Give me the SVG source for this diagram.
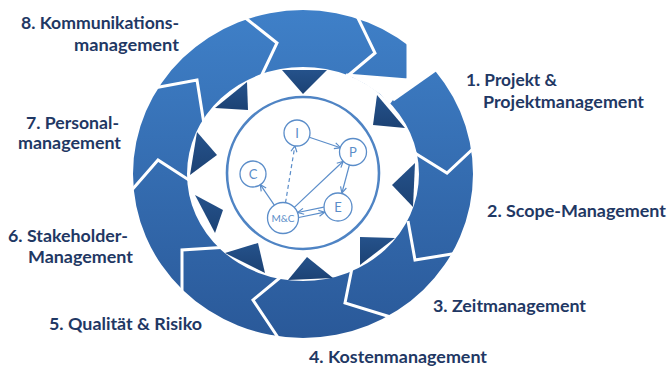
<svg xmlns="http://www.w3.org/2000/svg" width="669" height="371" viewBox="0 0 669 371">
<defs>
<linearGradient id="ringGrad" x1="0" y1="10" x2="0" y2="338" gradientUnits="userSpaceOnUse">
<stop offset="0" stop-color="#3f80c8"/>
<stop offset="1" stop-color="#2a5999"/>
</linearGradient>
<linearGradient id="triGrad" x1="0" y1="0" x2="0" y2="1">
<stop offset="0" stop-color="#25528b"/>
<stop offset="1" stop-color="#1c4274"/>
</linearGradient>
<marker id="ah" viewBox="0 0 8 8" refX="7" refY="4" markerWidth="8" markerHeight="8" markerUnits="userSpaceOnUse" orient="auto-start-reverse">
<path d="M1,1 L7,4 L1,7" fill="none" stroke="#5b8dc9" stroke-width="1.2"/>
</marker>
<style>
.sep{fill:none;stroke:#fff;stroke-width:3;stroke-linejoin:miter}
.tri{fill:url(#triGrad)}
.lbl{font-family:Lato,"Liberation Sans",Arial,sans-serif;font-weight:bold;font-size:17px;fill:#1f3864}
.nd{fill:#fff;stroke:#5b8dc9;stroke-width:1.3}
.nt{font-family:Lato,"Liberation Sans",Arial,sans-serif;font-size:13px;fill:#5b8dc9;text-anchor:middle}
.cn{fill:none;stroke:#5b8dc9;stroke-width:1.2}
</style>
</defs>
<rect width="669" height="371" fill="#fff"/>
<g id="ring">
<path fill="url(#ringGrad)" fill-rule="evenodd" d="M133,174 a170,164 0 1,0 340,0 a170,164 0 1,0 -340,0 Z M187,174 a116,107 0 1,0 232,0 a116,107 0 1,0 -232,0 Z"/>
<polygon fill="#fff" points="345,76 408,80 408,34 428,36 447,62 435,71 393,100 390,104 380,94 365,84 350,76"/>
<polyline class="sep" points="243,16 277,43 258,83"/>
<polyline class="sep" points="356,14 375,53 344,79"/>
<polyline class="sep" points="346,75 408,80 408,42"/>
<polyline class="sep" points="437,69 393,100"/>
<polyline class="sep" points="477,145 447,173 410,150"/>
<polyline class="sep" points="458,253 415,260 408,221"/>
<polyline class="sep" points="397,319 345,303 352,268"/>
<polyline class="sep" points="281,342 253,300 282,276"/>
<polyline class="sep" points="229,247 182,250 182,294"/>
<polyline class="sep" points="131,191 158,160 192,182"/>
<polyline class="sep" points="154,88 197,80 204,124"/>
</g>
<g id="triangles">
<polygon class="tri" points="282,70 327,70 303,94"/>
<polygon class="tri" points="377,95 373,125 405,128"/>
<polygon class="tri" points="415,163 392,185 413,207"/>
<polygon class="tri" points="360,237 395,238 360,265"/>
<polygon class="tri" points="288,280 307,257 333,278"/>
<polygon class="tri" points="225,253 258,243 265,273"/>
<polygon class="tri" points="195,195 223,210 215,233"/>
<polygon class="tri" points="197,132 217,155 190,175"/>
<polygon class="tri" points="247,82 215,108 248,110"/>
</g>
<g id="frame">
<circle cx="303" cy="173" r="76" fill="#fff" stroke="#4f84c4" stroke-width="2.6"/>
</g>
<g id="connectors">
<line class="cn" x1="309.3" y1="137.2" x2="340.5" y2="147.7" marker-end="url(#ah)"/>
<line class="cn" x1="349.4" y1="165" x2="341.9" y2="193" marker-end="url(#ah)"/>
<line class="cn" x1="285.5" y1="202.7" x2="294.9" y2="145.8" stroke-dasharray="4,3" marker-end="url(#ah)"/>
<line class="cn" x1="294.3" y1="207.4" x2="343.2" y2="161.3" marker-end="url(#ah)"/>
<line class="cn" x1="274.3" y1="205.2" x2="260.3" y2="184.7" marker-end="url(#ah)"/>
<line class="cn" x1="297.7" y1="212.5" x2="323.8" y2="207.2" marker-start="url(#ah)"/>
<line class="cn" x1="298.7" y1="217.5" x2="324.8" y2="212.2" marker-end="url(#ah)"/>
</g>
<g id="node-I"><circle class="nd" cx="297" cy="133" r="13"/><text class="nt" x="297" y="137.5">I</text></g>
<g id="node-P"><circle class="nd" cx="353" cy="152" r="13.5"/><text class="nt" x="353" y="156.5">P</text></g>
<g id="node-C"><circle class="nd" cx="253" cy="174" r="13"/><text class="nt" x="253" y="178.5">C</text></g>
<g id="node-E"><circle class="nd" cx="338" cy="207" r="14"/><text class="nt" x="338" y="211.5">E</text></g>
<g id="node-MC"><circle class="nd" cx="283" cy="218" r="15.5"/><text class="nt" x="283" y="221.5" style="font-size:10px">M&amp;C</text></g>
<g id="label-8"><text class="lbl" x="21" y="29" textLength="158" lengthAdjust="spacingAndGlyphs">8. Kommunikations-</text><text class="lbl" x="74" y="50.5" textLength="105" lengthAdjust="spacingAndGlyphs">management</text></g>
<g id="label-7"><text class="lbl" x="26" y="128.5" textLength="93" lengthAdjust="spacingAndGlyphs">7. Personal-</text><text class="lbl" x="18" y="149" textLength="103" lengthAdjust="spacingAndGlyphs">management</text></g>
<g id="label-6"><text class="lbl" x="8" y="242" textLength="120" lengthAdjust="spacingAndGlyphs">6. Stakeholder-</text><text class="lbl" x="28" y="263" textLength="105" lengthAdjust="spacingAndGlyphs">Management</text></g>
<g id="label-5"><text class="lbl" x="49" y="330" textLength="153" lengthAdjust="spacingAndGlyphs">5. Qualität &amp; Risiko</text></g>
<g id="label-1"><text class="lbl" x="466" y="86" textLength="91" lengthAdjust="spacingAndGlyphs">1. Projekt &amp;</text><text class="lbl" x="483" y="108" textLength="161" lengthAdjust="spacingAndGlyphs">Projektmanagement</text></g>
<g id="label-2"><text class="lbl" x="487" y="217" textLength="179" lengthAdjust="spacingAndGlyphs">2. Scope-Management</text></g>
<g id="label-3"><text class="lbl" x="433" y="312" textLength="153" lengthAdjust="spacingAndGlyphs">3. Zeitmanagement</text></g>
<g id="label-4"><text class="lbl" x="309" y="363" textLength="178" lengthAdjust="spacingAndGlyphs">4. Kostenmanagement</text></g>
</svg>
